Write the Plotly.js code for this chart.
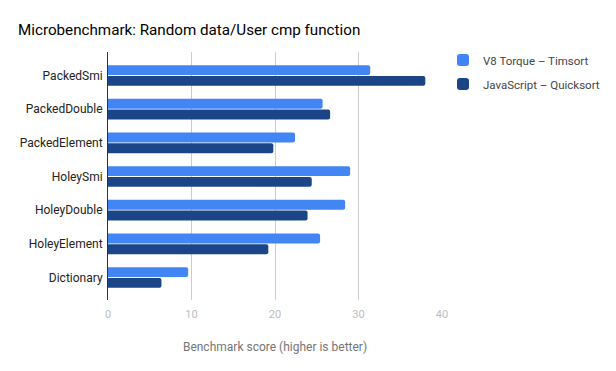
<!DOCTYPE html>
<html>
<head>
<meta charset="utf-8">
<script src="https://cdn.plot.ly/plotly-3.0.1.min.js"></script>
<style>html,body{margin:0;padding:0;background:#fff;}#chart{width:616px;height:371px;}</style>
</head>
<body>
<div id="chart"></div>
<script>
const categories = ["PackedSmi", "PackedDouble", "PackedElement", "HoleySmi", "HoleyDouble", "HoleyElement", "Dictionary"];
const torqueTimsort = [31.4, 25.7, 22.4, 29.0, 28.4, 25.4, 9.6];
const jsQuicksort = [38.0, 26.6, 19.8, 24.4, 23.9, 19.2, 6.4];
const seriesNames = ["V8 Torque – Timsort", "JavaScript – Quicksort"];
const xTicks = [0, 10, 20, 30, 40];

const traces = [
  {type: "bar", orientation: "h", name: seriesNames[0], y: categories, x: torqueTimsort, legendgroup: "a",
   marker: {color: "#4285F4", cornerradius: 2}, hoverinfo: "x+name"},
  {type: "bar", orientation: "h", name: seriesNames[1], y: categories, x: jsQuicksort, legendgroup: "b",
   marker: {color: "#1C4587", cornerradius: 2}, hoverinfo: "x+name"}
];

const layout = {
  width: 616, height: 371,
  margin: {l: 108, r: 174, t: 52, b: 71, pad: 0, autoexpand: false},
  paper_bgcolor: "#fff", plot_bgcolor: "#fff",
  font: {family: "Roboto, sans-serif", color: "#222"},
  title: {text: "Microbenchmark: Random data/User cmp function", x: 18/616, xanchor: "left", y: 1 - 30/371, yanchor: "middle",
          font: {size: 15.2, color: "#000", family: "Roboto, sans-serif"}},
  barmode: "group",
  bargap: 0.36,
  bargroupgap: 0.08,
  xaxis: {
    range: [0, 40], tickvals: xTicks, ticktext: xTicks.map(String),
    showgrid: true, gridcolor: "#cccccc", gridwidth: 1, zeroline: false,
    showline: false, ticks: "", ticklabelstandoff: 6, tickfont: {size: 11, color: "#bdbdbd"},
    title: {text: "Benchmark score (higher is better)", font: {size: 12, color: "#757575"}, standoff: 22},
    fixedrange: true
  },
  yaxis: {
    type: "category", categoryorder: "array", categoryarray: categories,
    range: [6.668, -0.697],
    showline: true, linecolor: "#333", linewidth: 1, showgrid: false, zeroline: false,
    ticks: "", ticklabelstandoff: 2, tickfont: {size: 12, color: "#222"},
    fixedrange: true
  },
  showlegend: true,
  legend: {x: 1.003, xanchor: "left", y: 1.026, yanchor: "top", orientation: "v", traceorder: "grouped",
           font: {size: 11.5, color: "#444"}, bgcolor: "rgba(0,0,0,0)", tracegroupgap: 5,
           itemclick: false, itemdoubleclick: false}
};

Plotly.newPlot("chart", traces, layout, {displayModeBar: false, staticPlot: true});
</script>
</body>
</html>
